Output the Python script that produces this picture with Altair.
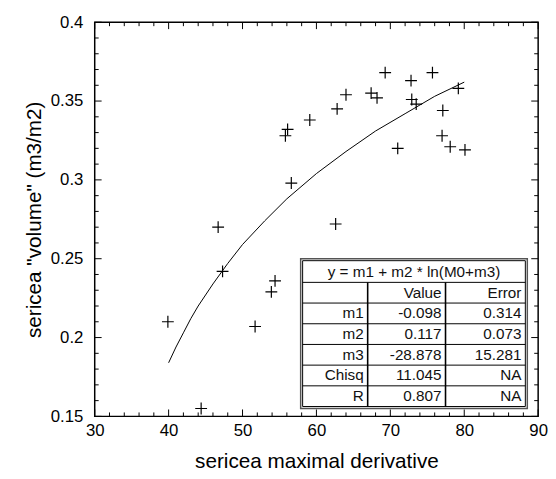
import altair as alt
import pandas as pd

# ---- data ----
x_vals = [69.3, 72.8, 75.7, 79.2, 64.0, 67.4, 68.2, 72.9, 73.5, 62.8, 59.1, 56.1, 55.8, 77.1,
          77.0, 78.1, 80.1, 71.0, 56.6, 62.6, 46.7, 47.3, 54.4, 53.9, 39.9, 51.7, 44.4]
y_vals = [0.368, 0.363, 0.368, 0.358, 0.354, 0.355, 0.352, 0.351, 0.348, 0.345, 0.338, 0.332, 0.328, 0.344,
          0.328, 0.321, 0.319, 0.320, 0.298, 0.272, 0.270, 0.242, 0.236, 0.229, 0.210, 0.207, 0.155]

curve_x = [40, 41, 42, 43, 44, 46, 48, 50, 53, 56, 60, 64, 68, 72, 76, 80]
curve_y = [0.184, 0.194, 0.203, 0.212, 0.220, 0.234, 0.247, 0.259, 0.274, 0.288, 0.304, 0.318,
           0.331, 0.342, 0.353, 0.362]

x_major = [30, 40, 50, 60, 70, 80, 90]
x_minor = [32, 34, 36, 38, 42, 44, 46, 48, 52, 54, 56, 58, 62, 64, 66, 68, 72, 74, 76, 78, 82, 84, 86, 88]
y_major = [0.15, 0.2, 0.25, 0.3, 0.35, 0.4]
y_minor = [0.16, 0.17, 0.18, 0.19, 0.21, 0.22, 0.23, 0.24, 0.26, 0.27, 0.28, 0.29,
           0.31, 0.32, 0.33, 0.34, 0.36, 0.37, 0.38, 0.39]

fit_title = "y = m1 + m2 * ln(M0+m3)"
row_names = ["", "m1", "m2", "m3", "Chisq", "R"]
value_col = ["Value", "-0.098", "0.117", "-28.878", "11.045", "0.807"]
error_col = ["Error", "0.314", "0.073", "15.281", "NA", "NA"]

# ---- layout ----
W, H = 450, 400
FONT = "Liberation Sans"
MAJ, MIN = 7, 4
T_L, T_R, T_T, T_HDR, ROW_H = 211, 437, 242, 264, 21
COL1, COL2 = 277, 356
T_B = T_HDR + ROW_H * len(row_names)

xs = alt.Scale(domain=[30, 90], nice=False, zero=False)
ys = alt.Scale(domain=[0.15, 0.4], nice=False, zero=False)

x_axis = alt.Axis(values=x_major, ticks=False, tickSize=0, domain=False, grid=False,
                  labelFontSize=17, labelFont=FONT, labelColor="black", labelPadding=6,
                  labelFlush=False, title="sericea maximal derivative", titleFontSize=21,
                  titleFont=FONT, titleFontWeight="normal", titleColor="black", titlePadding=13)
y_axis = alt.Axis(values=y_major, format=".2~f", ticks=False, tickSize=0, domain=False, grid=False,
                  labelFontSize=17, labelFont=FONT, labelColor="black", labelPadding=12,
                  labelFlush=False, title='sericea "volume" (m3/m2)', titleFontSize=21,
                  titleFont=FONT, titleFontWeight="normal", titleColor="black", titlePadding=6)

X = lambda f: alt.X(f, scale=xs, axis=x_axis)
Y = lambda f: alt.Y(f, scale=ys, axis=y_axis)

pts = pd.DataFrame({"x": x_vals, "y": y_vals})
crv = pd.DataFrame({"x": curve_x, "y": curve_y})

points = alt.Chart(pts).mark_point(
    shape="M-1,0L1,0M0,-1L0,1", size=144, filled=False, stroke="black", strokeWidth=1.2, opacity=1
).encode(x=X("x:Q"), y=Y("y:Q"))

curve = alt.Chart(crv).mark_line(color="black", strokeWidth=1).encode(x=X("x:Q"), y=Y("y:Q"))

def xticks(vals, length):
    d = pd.DataFrame({"x": vals})
    bottom = alt.Chart(d).mark_rule(color="black", strokeWidth=1).encode(
        x=X("x:Q"), y=alt.value(H), y2=alt.value(H - length))
    top = alt.Chart(d).mark_rule(color="black", strokeWidth=1).encode(
        x=X("x:Q"), y=alt.value(0), y2=alt.value(length))
    return [bottom, top]

def yticks(vals, length):
    d = pd.DataFrame({"y": vals})
    left = alt.Chart(d).mark_rule(color="black", strokeWidth=1).encode(
        y=Y("y:Q"), x=alt.value(0), x2=alt.value(length))
    right = alt.Chart(d).mark_rule(color="black", strokeWidth=1).encode(
        y=Y("y:Q"), x=alt.value(W), x2=alt.value(W - length))
    return [left, right]

ticks = xticks(x_major, MAJ) + xticks(x_minor, MIN) + yticks(y_major, MAJ) + yticks(y_minor, MIN)

# ---- fit table ----
one = pd.DataFrame({"a": [0]})
outer = alt.Chart(one).mark_rect(fill="white", stroke="#555555", strokeWidth=1.5).encode(
    x=alt.value(T_L - 2), x2=alt.value(T_R + 2), y=alt.value(T_T - 2), y2=alt.value(T_B + 2))
inner = alt.Chart(one).mark_rect(fill="white", stroke="black", strokeWidth=1).encode(
    x=alt.value(T_L), x2=alt.value(T_R), y=alt.value(T_T), y2=alt.value(T_B))

hl = pd.DataFrame({"py": [T_HDR + ROW_H * i for i in range(len(row_names))]})
hlines = alt.Chart(hl).mark_rule(color="black", strokeWidth=1).encode(
    y=alt.Y("py:Q", scale=None), x=alt.value(T_L), x2=alt.value(T_R))
vl = pd.DataFrame({"px": [COL1, COL2]})
vlines = alt.Chart(vl).mark_rule(color="black", strokeWidth=1.6).encode(
    x=alt.X("px:Q", scale=None), y=alt.value(T_HDR), y2=alt.value(T_B))

cells = []
for i, (n, v, e) in enumerate(zip(row_names, value_col, error_col)):
    cy = T_HDR + ROW_H * (i + 0.5)
    cells += [{"px": COL1 - 4, "py": cy, "t": n},
              {"px": COL2 - 4, "py": cy, "t": v},
              {"px": T_R - 4, "py": cy, "t": e}]
cells_df = pd.DataFrame(cells)
cell_text = alt.Chart(cells_df).mark_text(
    align="right", baseline="middle", fontSize=15.5, font=FONT, color="#111111").encode(
    x=alt.X("px:Q", scale=None), y=alt.Y("py:Q", scale=None), text="t:N")

hdr_df = pd.DataFrame({"px": [(T_L + T_R) / 2], "py": [(T_T + T_HDR) / 2 + 1], "t": [fit_title]})
hdr_text = alt.Chart(hdr_df).mark_text(
    align="center", baseline="middle", fontSize=15.5, font=FONT, color="#111111").encode(
    x=alt.X("px:Q", scale=None), y=alt.Y("py:Q", scale=None), text="t:N")

chart = alt.layer(
    curve, points, *ticks, outer, inner, hlines, vlines, cell_text, hdr_text
).properties(
    width=W, height=H,
    autosize=alt.AutoSizeParams(type="none"),
    padding={"left": 88, "top": 11, "right": 10, "bottom": 52},
    background="white",
).configure_view(stroke="black", strokeWidth=1.5)

chart.save("out.html", embed_options={"renderer": "svg", "actions": False})
